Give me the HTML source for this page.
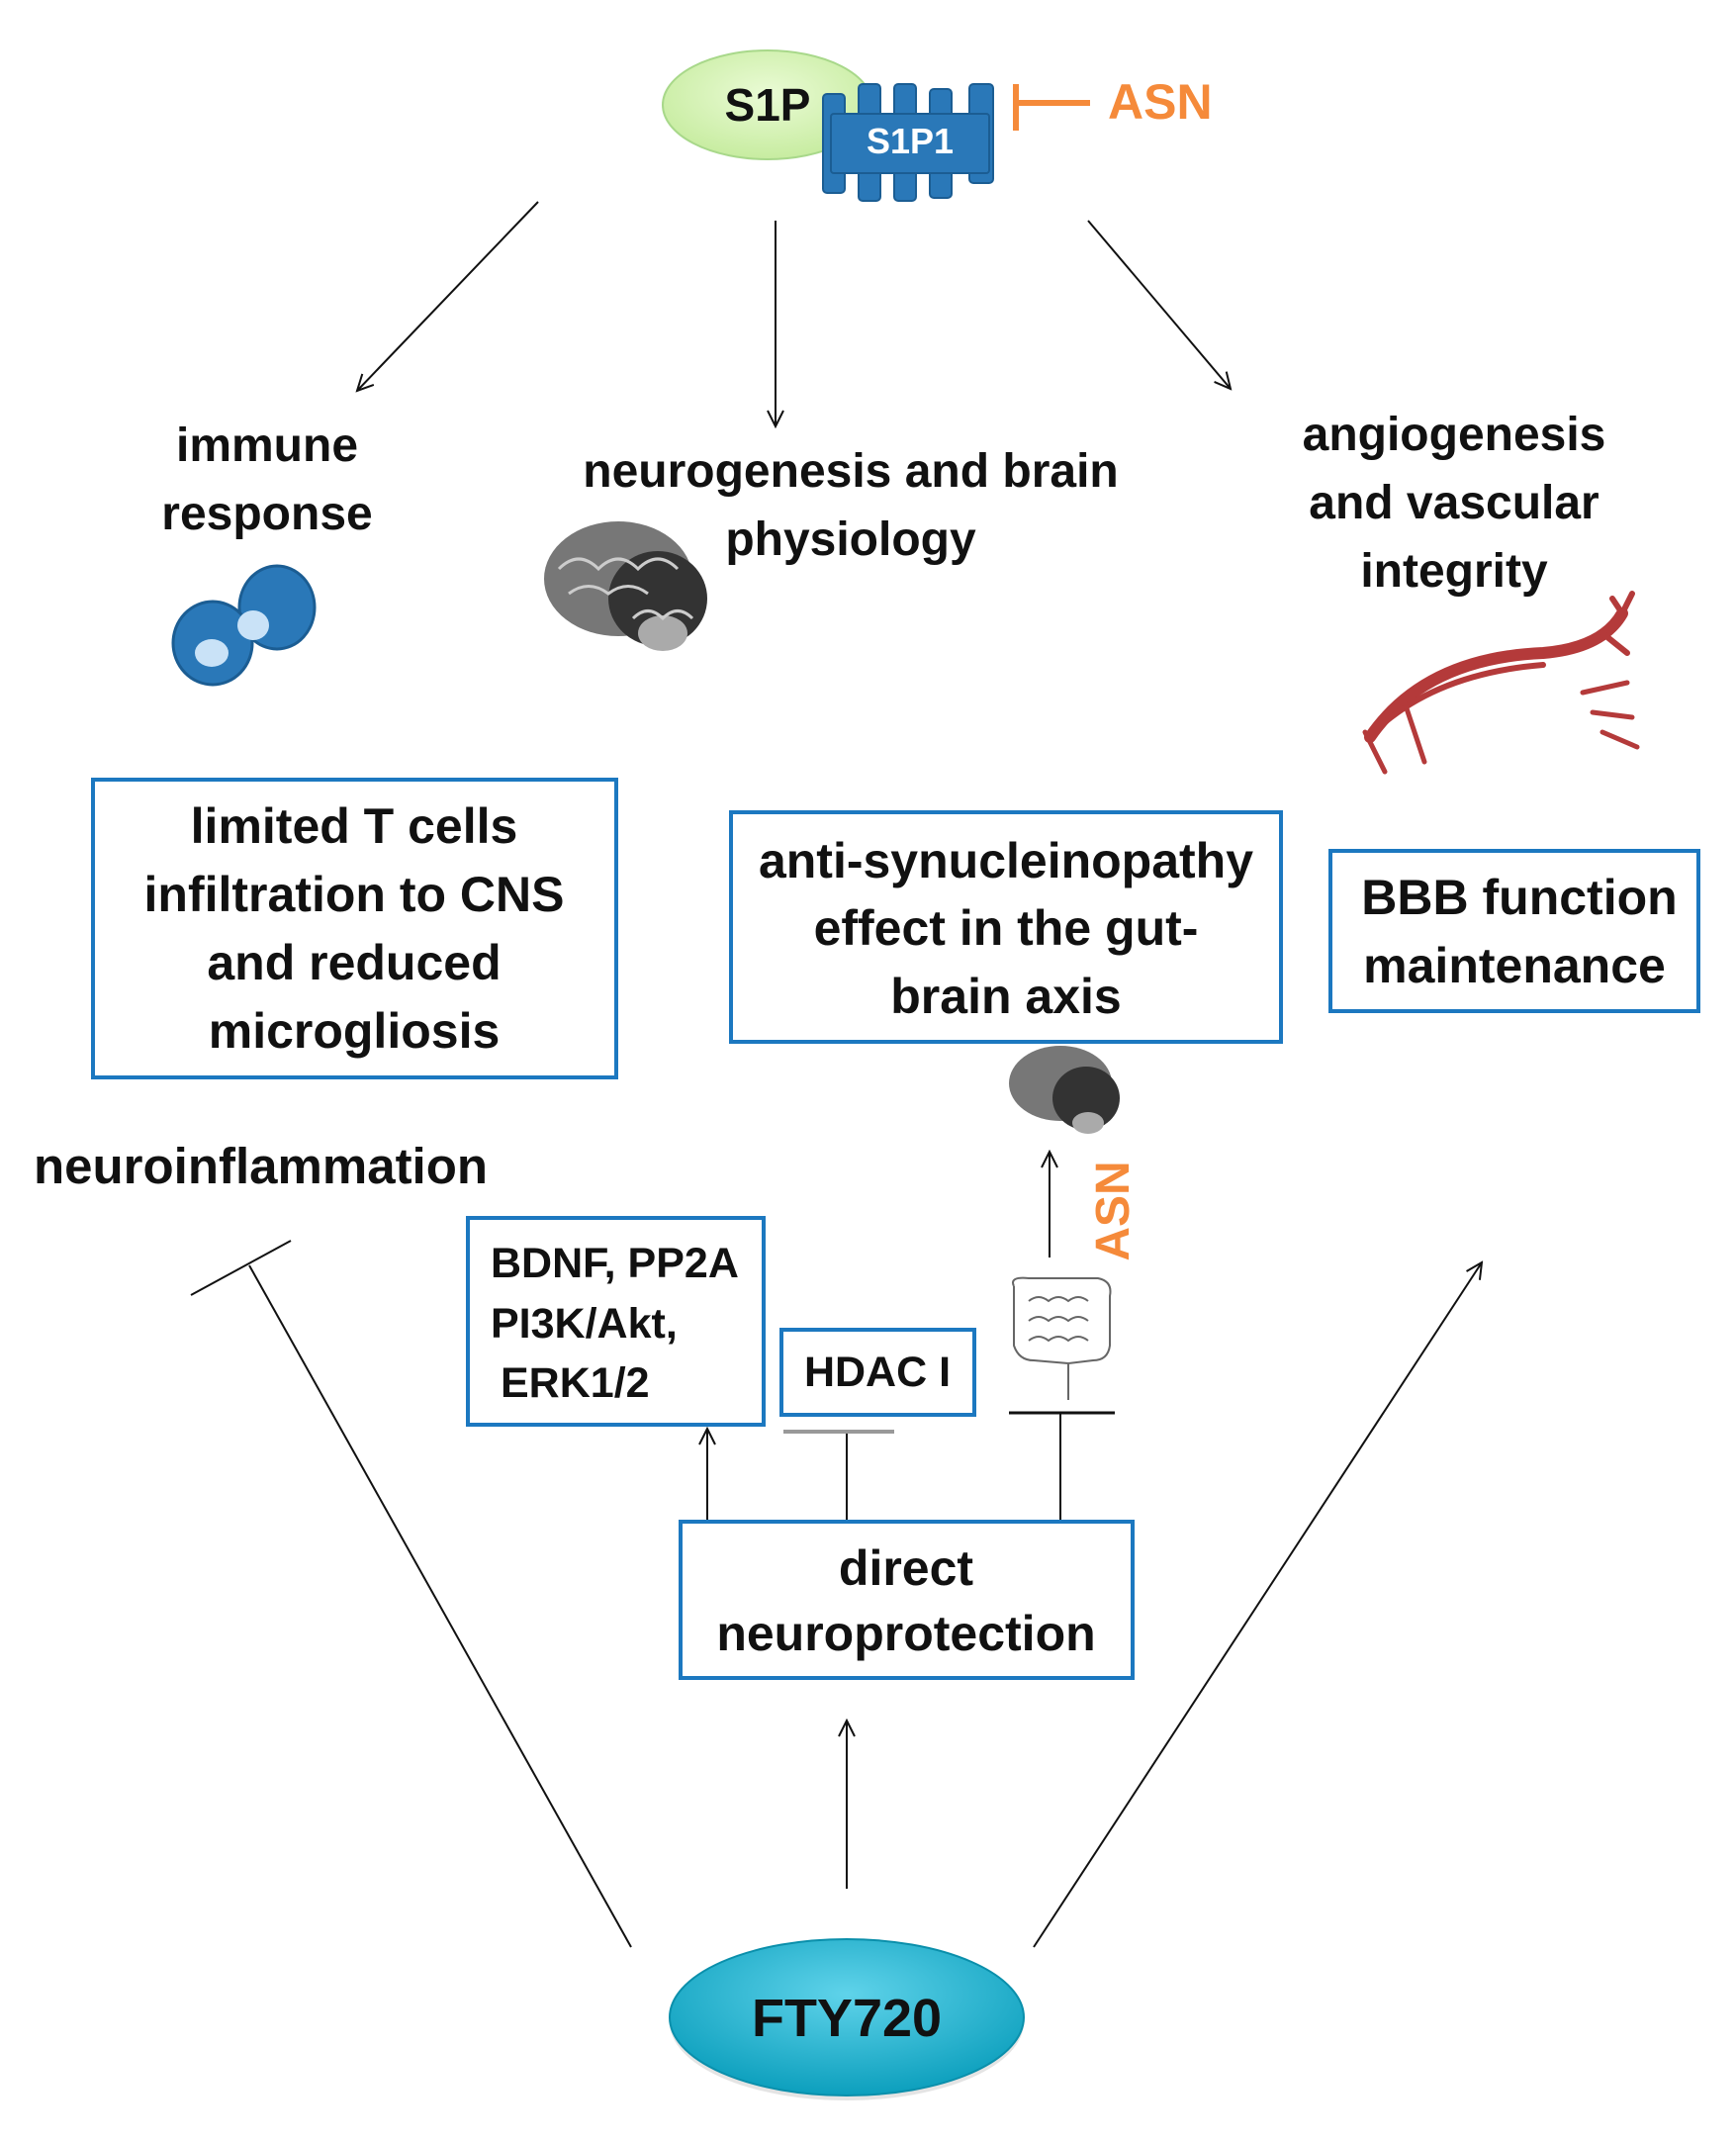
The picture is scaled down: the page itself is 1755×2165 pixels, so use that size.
<!DOCTYPE html>
<html><head><meta charset="utf-8"><style>
html,body{margin:0;padding:0;background:#fff;}
svg{display:block;}
text{font-family:"Liberation Sans",sans-serif;font-weight:bold;fill:#111;}
</style></head><body>
<svg width="1755" height="2165" viewBox="0 0 1755 2165" xmlns="http://www.w3.org/2000/svg">
<defs>
<marker id="ar" markerWidth="20" markerHeight="20" refX="18" refY="10" orient="auto" markerUnits="userSpaceOnUse">
<path d="M2,2 L18,10 L2,18" fill="none" stroke="#111" stroke-width="2"/></marker>
<radialGradient id="fty" cx="50%" cy="35%" r="65%"><stop offset="0" stop-color="#5fd3ea"/><stop offset="1" stop-color="#0c9fbd"/></radialGradient>
<radialGradient id="gr" cx="50%" cy="40%" r="60%"><stop offset="0" stop-color="#eafbd5"/><stop offset="1" stop-color="#c7eca0"/></radialGradient>
</defs>

<ellipse cx="776" cy="106" rx="106" ry="55" fill="url(#gr)" stroke="#a8d88a" stroke-width="2"/>
<text x="776" y="122" font-size="46" text-anchor="middle">S1P</text>
<g fill="#2a78b8" stroke="#1b5d93" stroke-width="2">
<rect x="832" y="95" width="22" height="100" rx="4"/>
<rect x="868" y="85" width="22" height="118" rx="4"/>
<rect x="904" y="85" width="22" height="118" rx="4"/>
<rect x="940" y="90" width="22" height="110" rx="4"/>
<rect x="980" y="85" width="24" height="100" rx="4"/>
<rect x="840" y="115" width="160" height="60" rx="3"/>
</g>
<text x="920" y="155" font-size="36" text-anchor="middle" style="fill:#fff">S1P1</text>
<line x1="1027" y1="85" x2="1027" y2="132" stroke="#f58a3a" stroke-width="6"/>
<line x1="1027" y1="104" x2="1102" y2="104" stroke="#f58a3a" stroke-width="6"/>
<text x="1120" y="120" font-size="50" style="fill:#f58a3a">ASN</text>

<g stroke="#111" stroke-width="2" fill="none">
<line x1="544" y1="204" x2="361" y2="395" marker-end="url(#ar)"/>
<line x1="784" y1="223" x2="784" y2="431" marker-end="url(#ar)"/>
<line x1="1100" y1="223" x2="1244" y2="393" marker-end="url(#ar)"/>
</g>

<g text-anchor="middle">
<text x="270" y="466" font-size="48">immune</text>
<text x="270" y="535" font-size="48">response</text>
<text x="860" y="492" font-size="48">neurogenesis and brain</text>
<text x="860" y="561" font-size="48">physiology</text>
<text x="1470" y="455" font-size="48">angiogenesis</text>
<text x="1470" y="524" font-size="48">and vascular</text>
<text x="1470" y="593" font-size="48">integrity</text>
</g>

<ellipse cx="280" cy="614" rx="38" ry="42" fill="#2a78b8" stroke="#1b5d93" stroke-width="3"/>
<ellipse cx="215" cy="650" rx="40" ry="42" fill="#2a78b8" stroke="#1b5d93" stroke-width="3"/>
<ellipse cx="256" cy="632" rx="16" ry="15" fill="#c9e2f7"/>
<ellipse cx="214" cy="660" rx="17" ry="14" fill="#c9e2f7"/>

<g>
<ellipse cx="625" cy="585" rx="75" ry="58" fill="#777"/>
<ellipse cx="665" cy="605" rx="50" ry="48" fill="#333"/>
<ellipse cx="670" cy="640" rx="25" ry="18" fill="#aaa"/>
<path d="M565 575 q20-20 40 0 q20-20 40 0 q20-20 40 0 M575 600 q20-15 40 0 q20-15 40 0 M640 625 q15-15 30 0 q15-15 30 0" stroke="#ccc" stroke-width="3" fill="none"/>
</g>

<g stroke="#b43a3a" fill="none" stroke-linecap="round">
<path d="M1385 745 Q1440 665 1560 660 Q1620 655 1640 620" stroke-width="12"/>
<path d="M1400 730 Q1460 680 1560 672" stroke-width="6"/>
<path d="M1640 620 L1630 605 M1640 620 L1650 600 M1620 640 L1645 660" stroke-width="6"/>
<path d="M1600 700 L1645 690 M1610 720 L1650 725 M1620 740 L1655 755 M1380 740 L1400 780 M1420 710 L1440 770" stroke-width="5"/>
</g>

<g fill="#fff" stroke="#1c78c0" stroke-width="4">
<rect x="94" y="788" width="529" height="301"/>
<rect x="739" y="821" width="556" height="232"/>
<rect x="1345" y="860" width="372" height="162"/>
<rect x="473" y="1231" width="299" height="209"/>
<rect x="790" y="1344" width="195" height="86"/>
<rect x="688" y="1538" width="457" height="158"/>
</g>
<g font-size="50" text-anchor="middle">
<text x="358" y="852">limited T cells</text>
<text x="358" y="921">infiltration to CNS</text>
<text x="358" y="990">and reduced</text>
<text x="358" y="1059">microgliosis</text>
<text x="1017" y="887">anti-synucleinopathy</text>
<text x="1017" y="955">effect in the gut-</text>
<text x="1017" y="1024">brain axis</text>
<text x="1536" y="924">BBB function</text>
<text x="1531" y="993">maintenance</text>
<text x="916" y="1602">direct</text>
<text x="916" y="1668">neuroprotection</text>
</g>
<g font-size="43">
<text x="496" y="1291">BDNF, PP2A</text>
<text x="496" y="1352">PI3K/Akt,</text>
<text x="506" y="1412">ERK1/2</text>
<text x="887" y="1401" text-anchor="middle">HDAC I</text>
</g>
<text x="34" y="1196" font-size="51">neuroinflammation</text>

<ellipse cx="1072" cy="1095" rx="52" ry="38" fill="#777"/>
<ellipse cx="1098" cy="1110" rx="34" ry="32" fill="#333"/>
<ellipse cx="1100" cy="1135" rx="16" ry="11" fill="#aaa"/>

<g stroke="#666" stroke-width="2" fill="none">
<path d="M1025 1300 Q1020 1290 1040 1292 L1110 1292 Q1125 1295 1122 1310 L1122 1360 Q1120 1375 1105 1375 L1080 1378 L1080 1415 M1025 1300 L1025 1360 Q1030 1375 1045 1375 L1080 1378"/>
<path d="M1040 1315 q10-8 20 0 q10-8 20 0 q10-8 20 0 M1040 1335 q10-8 20 0 q10-8 20 0 q10-8 20 0 M1040 1355 q10-8 20 0 q10-8 20 0 q10-8 20 0"/>
</g>
<text transform="translate(1141 1224) rotate(-90)" font-size="48" text-anchor="middle" style="fill:#f58a3a">ASN</text>

<g stroke="#111" stroke-width="2" fill="none">
<line x1="1061" y1="1271" x2="1061" y2="1164" marker-end="url(#ar)"/>
<line x1="1072" y1="1536" x2="1072" y2="1428"/>
<line x1="1020" y1="1428" x2="1127" y2="1428" stroke-width="3"/>
<line x1="856" y1="1536" x2="856" y2="1447"/>
<line x1="792" y1="1447" x2="904" y2="1447" stroke="#999" stroke-width="4"/>
<line x1="715" y1="1536" x2="715" y2="1444" marker-end="url(#ar)"/>
<line x1="856" y1="1909" x2="856" y2="1739" marker-end="url(#ar)"/>
<line x1="638" y1="1968" x2="252" y2="1279"/>
<line x1="193" y1="1309" x2="294" y2="1254"/>
<line x1="1045" y1="1968" x2="1498" y2="1276" marker-end="url(#ar)"/>
</g>

<ellipse cx="856" cy="2044" rx="179" ry="79" fill="#bbb" opacity="0.4"/>
<ellipse cx="856" cy="2039" rx="179" ry="79" fill="url(#fty)" stroke="#0a8fab" stroke-width="2"/>
<text x="856" y="2058" font-size="54" text-anchor="middle">FTY720</text>
</svg>
</body></html>
